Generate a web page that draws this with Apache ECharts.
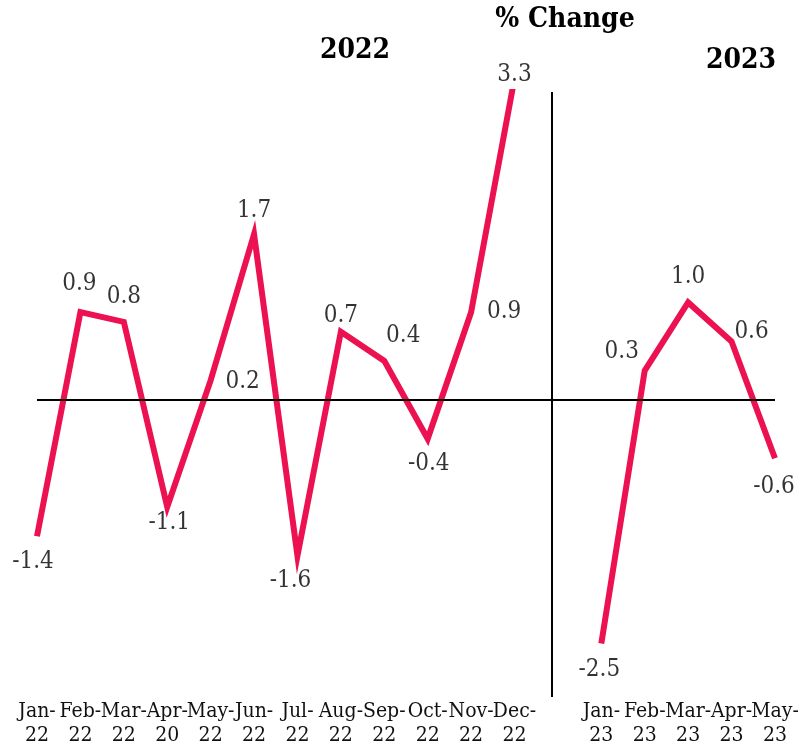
<!DOCTYPE html>
<html>
<head>
<meta charset="utf-8">
<script src="https://cdn.jsdelivr.net/npm/echarts@6/dist/echarts.min.js"></script>
<style>
  html, body { margin: 0; padding: 0; background: #fff; }
  #chart { width: 798px; height: 746px; }
</style>
</head>
<body>
<div id="chart"></div>
<script>
// month labels (Apr-20 is as printed on the original)
const months2022 = ['Jan-\n22', 'Feb-\n22', 'Mar-\n22', 'Apr-\n20', 'May-\n22', 'Jun-\n22',
  'Jul-\n22', 'Aug-\n22', 'Sep-\n22', 'Oct-\n22', 'Nov-\n22', 'Dec-\n22']
const months2023 = ['Jan-\n23', 'Feb-\n23', 'Mar-\n23', 'Apr-\n23', 'May-\n23']
const values2022 = [-1.4, 0.9, 0.8, -1.1, 0.2, 1.7, -1.6, 0.7, 0.4, -0.4, 0.9, 3.3]
const values2023 = [-2.5, 0.3, 1.0, 0.6, -0.6]

// label offsets from each point (px)
const labelOffsets = [
  [-4, 26], [-1, -28], [0, -25], [2, 16], [32, 1], [0, -23],
  [-7, 25], [0, -16], [19, -25], [1, 25], [33, 0], [0, -4],
  [-2, 26], [-23, -19], [0, -26], [20, -10], [-1, 28]
]

// build x positions: 2022 months, one empty slot, 2023 months
const xLabels = months2022.concat([''], months2023)
const gapIndex = months2022.length
const lineData = []
values2022.forEach((v, i) => lineData.push([i, v]))
lineData.push([gapIndex, '-'])
values2023.forEach((v, i) => lineData.push([gapIndex + 1 + i, v]))

const labelData = lineData
  .filter(d => d[1] !== '-')
  .map((d, k) => ({
    value: d,
    label: { offset: labelOffsets[k] }
  }))

const font = "'DejaVu Serif Condensed', 'DejaVu Serif'"
const chart = echarts.init(document.getElementById('chart'))
const option = {
  animation: false,
  backgroundColor: '#fff',
  title: [
    {
      text: '% Change', left: 565, top: 6, textAlign: 'center', padding: 0,
      textStyle: { fontFamily: font, fontSize: 28, fontWeight: 'bold', color: '#000' }
    },
    {
      text: '2022', left: 355, top: 37, textAlign: 'center', padding: 0,
      textStyle: { fontFamily: font, fontSize: 28, fontWeight: 'bold', color: '#000' }
    },
    {
      text: '2023', left: 741, top: 47, textAlign: 'center', padding: 0,
      textStyle: { fontFamily: font, fontSize: 28, fontWeight: 'bold', color: '#000' }
    }
  ],
  grid: {
    left: 37,
    right: 23,
    top: 92,
    bottom: 49,
    outerBoundsMode: 'none'
  },
  xAxis: {
    type: 'value',
    min: 0,
    // tiny pad so the last month label is not dropped at the axis end
    max: xLabels.length - 1 + 0.001,
    interval: 1,
    splitLine: { show: false },
    axisLine: { show: false },
    axisTick: { show: false },
    axisLabel: {
      margin: 3,
      hideOverlap: false,
      fontFamily: font,
      fontSize: 21,
      lineHeight: 24,
      color: '#111',
      formatter: v => xLabels[v] || ''
    }
  },
  yAxis: {
    type: 'value',
    min: -3.05,
    max: 3.16,
    show: false
  },
  series: [
    {
      name: 'change',
      type: 'line',
      data: lineData,
      showSymbol: false,
      clip: true,
      connectNulls: false,
      lineStyle: { color: '#EC1150', width: 6, cap: 'butt', join: 'miter' },
      markLine: {
        silent: true,
        symbol: 'none',
        label: { show: false },
        lineStyle: { color: '#000', width: 2, type: 'solid' },
        data: [
          { yAxis: 0 },
          { xAxis: gapIndex - 0.15 }
        ]
      },
      z: 3
    },
    {
      name: 'labels',
      type: 'scatter',
      data: labelData,
      clip: false,
      symbolSize: 1,
      itemStyle: { color: 'rgba(0,0,0,0)' },
      label: {
        show: true,
        position: 'inside',
        fontFamily: font,
        fontSize: 24,
        color: '#000',
        formatter: p => p.value[1].toFixed(1)
      },
      z: 4
    }
  ]
}
chart.setOption(option)
</script>
</body>
</html>
